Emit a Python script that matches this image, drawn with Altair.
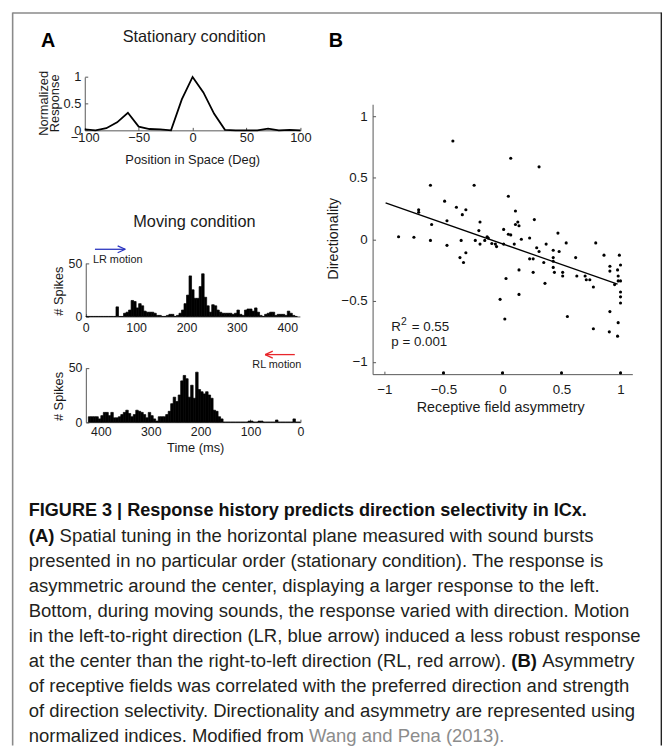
import altair as alt
import pandas as pd

FONT = "Liberation Sans, Arial, Helvetica, sans-serif"
W, H = 663, 742

# ---------------- Panel A (top): stationary condition ----------------
stat_pos = [-100, -90, -80, -70, -60, -50, -40, -30, -20, -10, 0,
            10, 20, 30, 40, 50, 60, 70, 80, 90, 100]
stat_resp = [0.02, 0.0, 0.04, 0.15, 0.33, 0.07, 0.025, 0.02, 0.0, 0.58, 1.0,
             0.71, 0.31, 0.01, 0.0, 0.0, 0.0, 0.03, 0.0, 0.01, 0.0]

# ---------------- Panel A: moving condition histograms (5 ms bins) ----------------
bin_width = 5
lr_counts = [0, 0, 0, 0, 0, 0, 0, 0, 0, 0, 0, 0,
             9, 0, 0, 3, 4, 6, 15, 14, 8, 12, 10, 5, 4, 4, 4, 3, 1, 1,
             0, 0, 1, 2, 2, 0, 1, 3, 6, 12, 20, 38, 25, 17, 17, 28, 40, 18,
             10, 4, 11, 10, 6, 4, 3, 3, 3, 3, 2, 3, 6, 2, 1, 6, 7, 7, 5, 8,
             4, 1, 0, 2, 3, 4, 4, 1, 2, 2, 2, 1, 5, 3, 1, 0]
rl_counts = [0, 0, 3, 0, 0, 0, 0, 0, 0, 2, 0, 0, 0, 0, 0, 1, 1, 0, 0, 1,
             1, 0, 0, 0, 0, 0, 0, 0, 0, 0, 0, 3, 5, 10, 11, 22, 25, 28, 26, 28,
             30, 46, 22, 34, 23, 40, 43, 38, 25, 19, 23, 17, 10, 7, 5, 5, 5, 1,
             3, 6, 9, 4, 7, 9, 10, 11, 7, 5, 8, 11, 9, 7, 5, 4, 4, 9, 6, 9, 9,
             6, 3, 5, 5, 5, 5]

# ---------------- Panel B: scatter ----------------
rf_asym = [-0.42, 0.07, 0.31, -0.61, -0.24, -0.49, 0.05, -0.71, -0.71, -0.39,
           -0.31, -0.34, -0.47, -0.60, -0.19, 0.11, 0.27, 0.13, 0.14, 0.11,
           -0.20, 0.01, 0.05, 0.07, -0.88, -0.75, -0.61, -0.35, -0.23, -0.19,
           -0.15, -0.13, -0.12, -0.09, -0.06, -0.05, 0.01, 0.10, 0.16, 0.23,
           0.29, 0.31, 0.37, 0.43, 0.47, 0.48, 0.54, 0.79, 0.86, 0.99,
           -0.47, -0.36, -0.31, 0.23, 0.26, 0.43, 0.43, 0.62,
           -0.33, 0.03, 0.14, 0.26, 0.35, 0.36, 0.14, -0.02, 0.02, 0.43,
           0.44, 0.51, 0.51, 0.63, 0.70, 0.71, 0.74, 0.77, 0.55, 0.77,
           0.91, 0.91, 0.91, 0.905, 0.95, 0.975, 0.98, 0.98, 1.0, 1.0,
           1.0, 1.0, 1.0, 0.98, 0.975,
           -0.5, 0.0, 0.5, 1.0]
directionality = [0.80, 0.66, 0.59, 0.44, 0.44, 0.31, 0.35, 0.24, 0.22, 0.26,
                  0.24, 0.20, 0.15, 0.12, 0.14, 0.23, 0.16, 0.14, 0.11, 0.12,
                  0.07, 0.08, 0.04, 0.035, 0.02, 0.016, -0.01, -0.01, -0.01, -0.04,
                  -0.01, 0.02, 0.01, -0.035, -0.04, -0.06, -0.04, -0.04, 0.0, 0.01,
                  -0.07, -0.10, -0.04, -0.09, 0.05, -0.10, -0.03, -0.03, -0.13, -0.13,
                  -0.05, -0.15, -0.11, -0.16, -0.16, -0.15, -0.18, -0.15,
                  -0.19, -0.32, -0.25, -0.27, -0.19, -0.36, -0.45, -0.49, -0.65, -0.23,
                  -0.27, -0.27, -0.30, -0.30, -0.30, -0.33, -0.33, -0.39, -0.63, -0.73,
                  -0.22, -0.26, -0.59, -0.755, -0.37, -0.25, -0.30, -0.34, -0.21, -0.34,
                  -0.43, -0.47, -0.52, -0.68, -0.79,
                  -1.09, -1.09, -1.09, -1.09]
fit_x = [-0.99, 0.975]
fit_y = [0.296, -0.366]

caption_title = "FIGURE 3 | Response history predicts direction selectivity in ICx."
caption_lines = [
    "presented in no particular order (stationary condition). The response is",
    "asymmetric around the center, displaying a larger response to the left.",
    "Bottom, during moving sounds, the response varied with direction. Motion",
    "in the left-to-right direction (LR, blue arrow) induced a less robust response",
]
caption_lines2 = [
    "of receptive fields was correlated with the preferred direction and strength",
    "of direction selectivity. Directionality and asymmetry are represented using",
]

df_stat = pd.DataFrame({"pos": stat_pos, "resp": stat_resp})
df_lr = pd.DataFrame({"t0": [i * bin_width for i in range(len(lr_counts))],
                      "n": lr_counts})
df_lr["t1"] = df_lr["t0"] + bin_width
df_rl = pd.DataFrame({"t0": [i * bin_width for i in range(len(rl_counts))],
                      "n": rl_counts})
df_rl["t1"] = df_rl["t0"] + bin_width
df_b = pd.DataFrame({"x": rf_asym, "y": directionality})
df_fit = pd.DataFrame({"x": fit_x, "y": fit_y})


def ax(orient, offset, values, size, pad):
    return alt.Axis(orient=orient, offset=offset, values=values, grid=False,
                    title=None, format="~f", labelFont=FONT, labelFontSize=size,
                    labelColor="#1a1a1a", domainColor="#555555",
                    tickColor="#555555", tickSize={"expr": "-3"},
                    labelPadding=pad, labelFlush=False, labelOverlap=False,
                    labelBound=False, domainWidth=1, tickWidth=1)


def sc(domain, rng):
    return alt.Scale(domain=domain, range=rng, nice=False, zero=False)


# A top
a1 = alt.Chart(df_stat).mark_line(color="black", strokeWidth=1.8).encode(
    x=alt.X("pos:Q", scale=sc([-100, 100], [77.7, 296]),
            axis=ax("bottom", 119.3 - H, [-100, -50, 0, 50, 100], 13, 4)),
    y=alt.Y("resp:Q", scale=sc([0, 1], [119.3, 65.3]),
            axis=ax("left", -77.7, [0, 0.5, 1], 13, 7)),
)

# LR histogram
a2 = alt.Chart(df_lr).mark_bar(color="black", stroke="black", strokeWidth=0.7).encode(
    x=alt.X("t0:Q", scale=sc([0, 425], [78.7, 295.45]),
            axis=ax("bottom", 307.7 - H, [0, 100, 200, 300, 400], 12.5, 8)),
    x2="t1:Q",
    y=alt.Y("n:Q", scale=sc([0, 50], [307.7, 253.7]),
            axis=ax("left", -78.7, [0, 50], 12.5, 7)),
    y2=alt.datum(0),
)

# RL histogram (reversed time axis)
a3 = alt.Chart(df_rl).mark_bar(color="black", stroke="black", strokeWidth=0.7).encode(
    x=alt.X("t0:Q", scale=sc([0, 430], [296, 78.8]),
            axis=ax("bottom", 414.7 - H, [0, 100, 200, 300, 400], 12.5, 7)),
    x2="t1:Q",
    y=alt.Y("n:Q", scale=sc([0, 50], [414.7, 359.7]),
            axis=ax("left", -78.8, [0, 50], 12.5, 7)),
    y2=alt.datum(0),
)

# B scatter
bx = sc([-1.1, 1.1], [369.05, 631.95])
by = sc([-1.1, 1.1], [366.1, 92.9])
b_pts = alt.Chart(df_b).mark_circle(color="black", size=10, opacity=1).encode(
    x=alt.X("x:Q", scale=bx, axis=ax("bottom", 366.1 - H, [-1, -0.5, 0, 0.5, 1], 13.5, 12)),
    y=alt.Y("y:Q", scale=by, axis=ax("left", -369.05, [-1, -0.5, 0, 0.5, 1], 13.5, 8.5)),
)
b_fit = alt.Chart(df_fit).mark_line(color="black", strokeWidth=1.3).encode(
    x=alt.X("x:Q", scale=bx, axis=None),
    y=alt.Y("y:Q", scale=by, axis=None),
)


def txt(s, x, y, size=13, weight="normal", color="#1a1a1a", align="left",
        angle=0, baseline="middle"):
    return alt.Chart(pd.DataFrame({"s": [s]})).mark_text(
        font=FONT, fontSize=size, fontWeight=weight, color=color, align=align,
        angle=angle, baseline=baseline).encode(
        text="s:N", x=alt.value(x), y=alt.value(y))


def rule(x1, y1, x2, y2, color, width=1.3):
    return alt.Chart(pd.DataFrame({"k": [0]})).mark_rule(
        color=color, strokeWidth=width).encode(
        x=alt.value(x1), y=alt.value(y1), x2=alt.value(x2), y2=alt.value(y2))


layers = [a1, a2, a3, b_fit, b_pts]

# frame
layers += [rule(4.7, 0, 4.7, H, "#8a8a8a", 1.6),
           rule(4.7, 0.5, 661.5, 0.5, "#8a8a8a", 1.6),
           rule(661.3, 0, 661.3, H, "#222222", 1.4)]

# panel labels and titles
layers += [
    txt("A", 40.7, 28.7, 20, "bold", "#000000", "center"),
    txt("B", 332, 28.7, 20, "bold", "#000000", "center"),
    txt("Stationary condition", 188.5, 25.3, 16.5, align="center"),
    txt("Normalized", 36, 92, 13, align="center", angle=270),
    txt("Response", 47.5, 92, 13, align="center", angle=270),
    txt("Position in Space (Deg)", 187, 149.3, 13, align="center"),
    txt("Moving condition", 188.7, 212, 16.5, align="center"),
    txt("# Spikes", 51.3, 282, 13, align="center", angle=270),
    txt("# Spikes", 51.3, 388.7, 13, align="center", angle=270),
    txt("LR motion", 86, 251, 11),
    txt("RL motion", 297, 357, 11, align="right"),
    txt("Time (ms)", 190, 440.5, 13, align="center"),
    txt("Directionality", 330, 229, 14.5, align="center", angle=270),
    txt("Receptive field asymmetry", 498.7, 400.3, 14.5, align="center"),
    txt("R", 388, 318.7, 13.5),
    txt("2", 397.7, 313.2, 10.5),
    txt("= 0.55", 408.7, 318.7, 13.5),
    txt("p = 0.001", 388, 333.7, 13.5),
]

# arrows
layers += [
    rule(88, 239.7, 118.7, 239.7, "#2b35c0"),
    rule(118.7, 239.7, 111, 236.2, "#2b35c0"),
    rule(118.7, 239.7, 111, 243.2, "#2b35c0"),
    rule(260.3, 346.3, 290.3, 346.3, "#e8262b"),
    rule(260.3, 346.3, 268, 342.8, "#e8262b"),
    rule(260.3, 346.3, 268, 349.8, "#e8262b"),
]

# caption
CAP = 18.7
CC = "#231f20"
y0 = 505
LS = 25.3
layers.append(txt(caption_title, 21, y0, 18.3, "bold", "#111111"))
layers.append(txt("(A)", 21, y0 + LS, CAP, "bold", "#111111"))
layers.append(txt("Spatial tuning in the horizontal plane measured with sound bursts",
                  52.2, y0 + LS, CAP, color=CC))
for i, line in enumerate(caption_lines):
    layers.append(txt(line, 21, y0 + LS * (2 + i), CAP, color=CC))
layers.append(txt("at the center than the right-to-left direction (RL, red arrow).",
                  21, y0 + LS * 6, CAP, color=CC))
layers.append(txt("(B)", 509.5, y0 + LS * 6, CAP, "bold", "#111111"))
layers.append(txt("Asymmetry", 540.7, y0 + LS * 6, CAP, color=CC))
for i, line in enumerate(caption_lines2):
    layers.append(txt(line, 21, y0 + LS * (7 + i), CAP, color=CC))
layers.append(txt("normalized indices. Modified from", 21, y0 + LS * 9, CAP, color=CC))
layers.append(txt("Wang and Pena (2013).", 304.7, y0 + LS * 9, CAP, color="#8c8c8c"))

chart = alt.layer(*layers).resolve_scale(
    x="independent", y="independent").resolve_axis(
    x="independent", y="independent").properties(
    width=W, height=H, autosize=alt.AutoSizeParams(type="none"), padding=0
).configure_view(stroke=None)

chart.save("out.html", embed_options={"renderer": "svg", "actions": False})
